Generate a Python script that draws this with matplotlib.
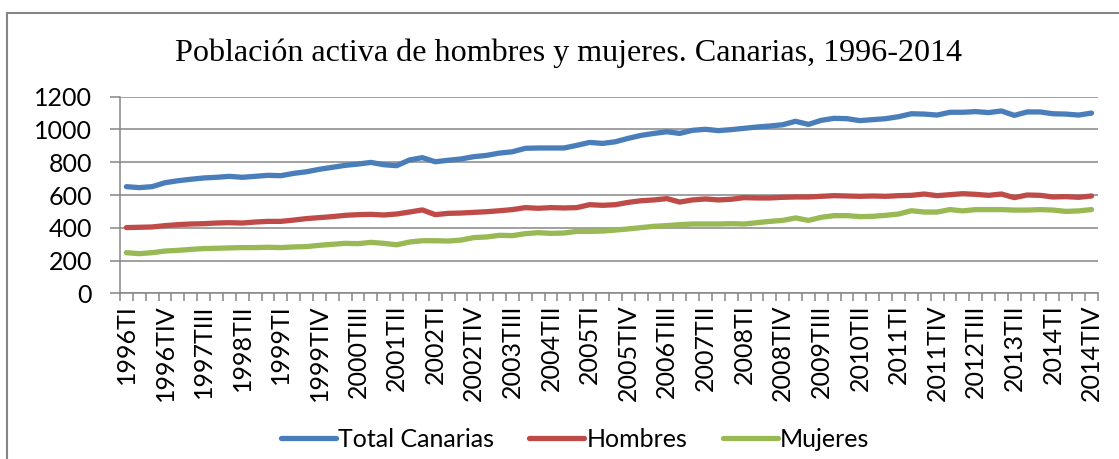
import numpy as np
import matplotlib.pyplot as plt
from matplotlib.patches import Rectangle

# trimestres 1996TI - 2014TIV
years = list(range(1996, 2015))
quarters = ['TI', 'TII', 'TIII', 'TIV']
periods = [f'{y}{q}' for y in years for q in quarters]

# miles de personas
total = [651, 645, 651, 675, 687, 696, 704, 708, 714, 708, 714, 720, 718, 732, 742, 757,
         769, 781, 789, 799, 785, 779, 814, 828, 803, 812, 820, 834, 842, 856, 864, 885,
         887, 887, 887, 903, 921, 915, 925, 946, 964, 976, 986, 976, 995, 1001, 993, 999,
         1007, 1015, 1021, 1029, 1050, 1031, 1056, 1068, 1066, 1054, 1060, 1066, 1078, 1096, 1094, 1088,
         1105, 1105, 1109, 1103, 1113, 1086, 1107, 1107, 1096, 1094, 1088, 1100]
hombres = [401, 403, 405, 413, 419, 423, 425, 429, 431, 429, 435, 439, 439, 447, 456, 462,
           468, 476, 480, 482, 478, 484, 496, 509, 480, 488, 490, 494, 498, 504, 511, 523,
           519, 523, 521, 523, 541, 537, 541, 555, 565, 570, 578, 557, 570, 576, 570, 574,
           584, 582, 582, 586, 588, 588, 592, 596, 594, 592, 594, 592, 596, 598, 606, 596,
           602, 608, 604, 598, 606, 584, 600, 598, 588, 590, 586, 594]
mujeres = [248, 242, 248, 258, 262, 268, 273, 275, 277, 279, 279, 281, 279, 283, 285, 293,
           299, 305, 303, 311, 305, 296, 313, 321, 321, 319, 325, 340, 344, 354, 352, 364,
           370, 366, 368, 378, 378, 380, 386, 393, 401, 409, 413, 419, 423, 423, 423, 425,
           423, 431, 439, 445, 460, 445, 464, 474, 474, 468, 470, 476, 484, 504, 496, 496,
           511, 503, 511, 511, 511, 508, 508, 511, 508, 500, 503, 511]

fig = plt.figure(figsize=(11.19, 4.59), dpi=100)
ax = fig.add_axes([0.1072, 0.361, 0.874, 0.4283])

x = np.arange(len(periods))
ax.plot(x, total, color='#4A7EBB', lw=3.8, solid_capstyle='round', label='Total Canarias')
ax.plot(x, hombres, color='#BE4B48', lw=3.8, solid_capstyle='round', label='Hombres')
ax.plot(x, mujeres, color='#98B954', lw=3.8, solid_capstyle='round', label='Mujeres')

ax.set_xlim(-0.5, len(periods) - 0.5)
ax.set_ylim(0, 1200)
ax.set_yticks(range(0, 1201, 200))
ax.yaxis.grid(True, color='#868686', lw=1.1)
ax.set_axisbelow(True)

for s in ['top', 'right']:
    ax.spines[s].set_visible(False)
ax.spines['left'].set_color('#868686')
ax.spines['bottom'].set_color('#868686')
ax.spines['left'].set_linewidth(1.1)
ax.spines['bottom'].set_linewidth(1.1)

font = 'Lato'
fs = 18
ax.tick_params(axis='y', length=7, width=1.1, color='#868686', pad=13, labelsize=fs)
for lab in ax.get_yticklabels():
    lab.set_family(font)

ax.set_xticks(x[::3])
ax.set_xticklabels(periods[::3], rotation=90, fontsize=fs, family=font)
ax.tick_params(axis='x', which='major', length=0, pad=8)
ax.set_xticks(np.arange(-0.5, len(periods)), minor=True)
ax.tick_params(axis='x', which='minor', length=6, width=1.1, color='#868686')

fig.text(0.5076, 0.884, 'Población activa de hombres y mujeres. Canarias, 1996-2014',
         ha='center', va='center', family='Liberation Serif', fontsize=23.1)

fig.legend(loc='center', bbox_to_anchor=(0.514, 0.043), ncol=3, frameon=False,
           prop={'family': font, 'size': fs}, handlelength=2.2, handletextpad=0.1,
           columnspacing=1.4)

fig.patches.append(Rectangle((7 / 1119, -0.2), 1.2, 0.2 + (459 - 13) / 459,
                             transform=fig.transFigure, fill=False,
                             edgecolor='#868686', lw=1.5))

fig.savefig('out.png', dpi=100)
